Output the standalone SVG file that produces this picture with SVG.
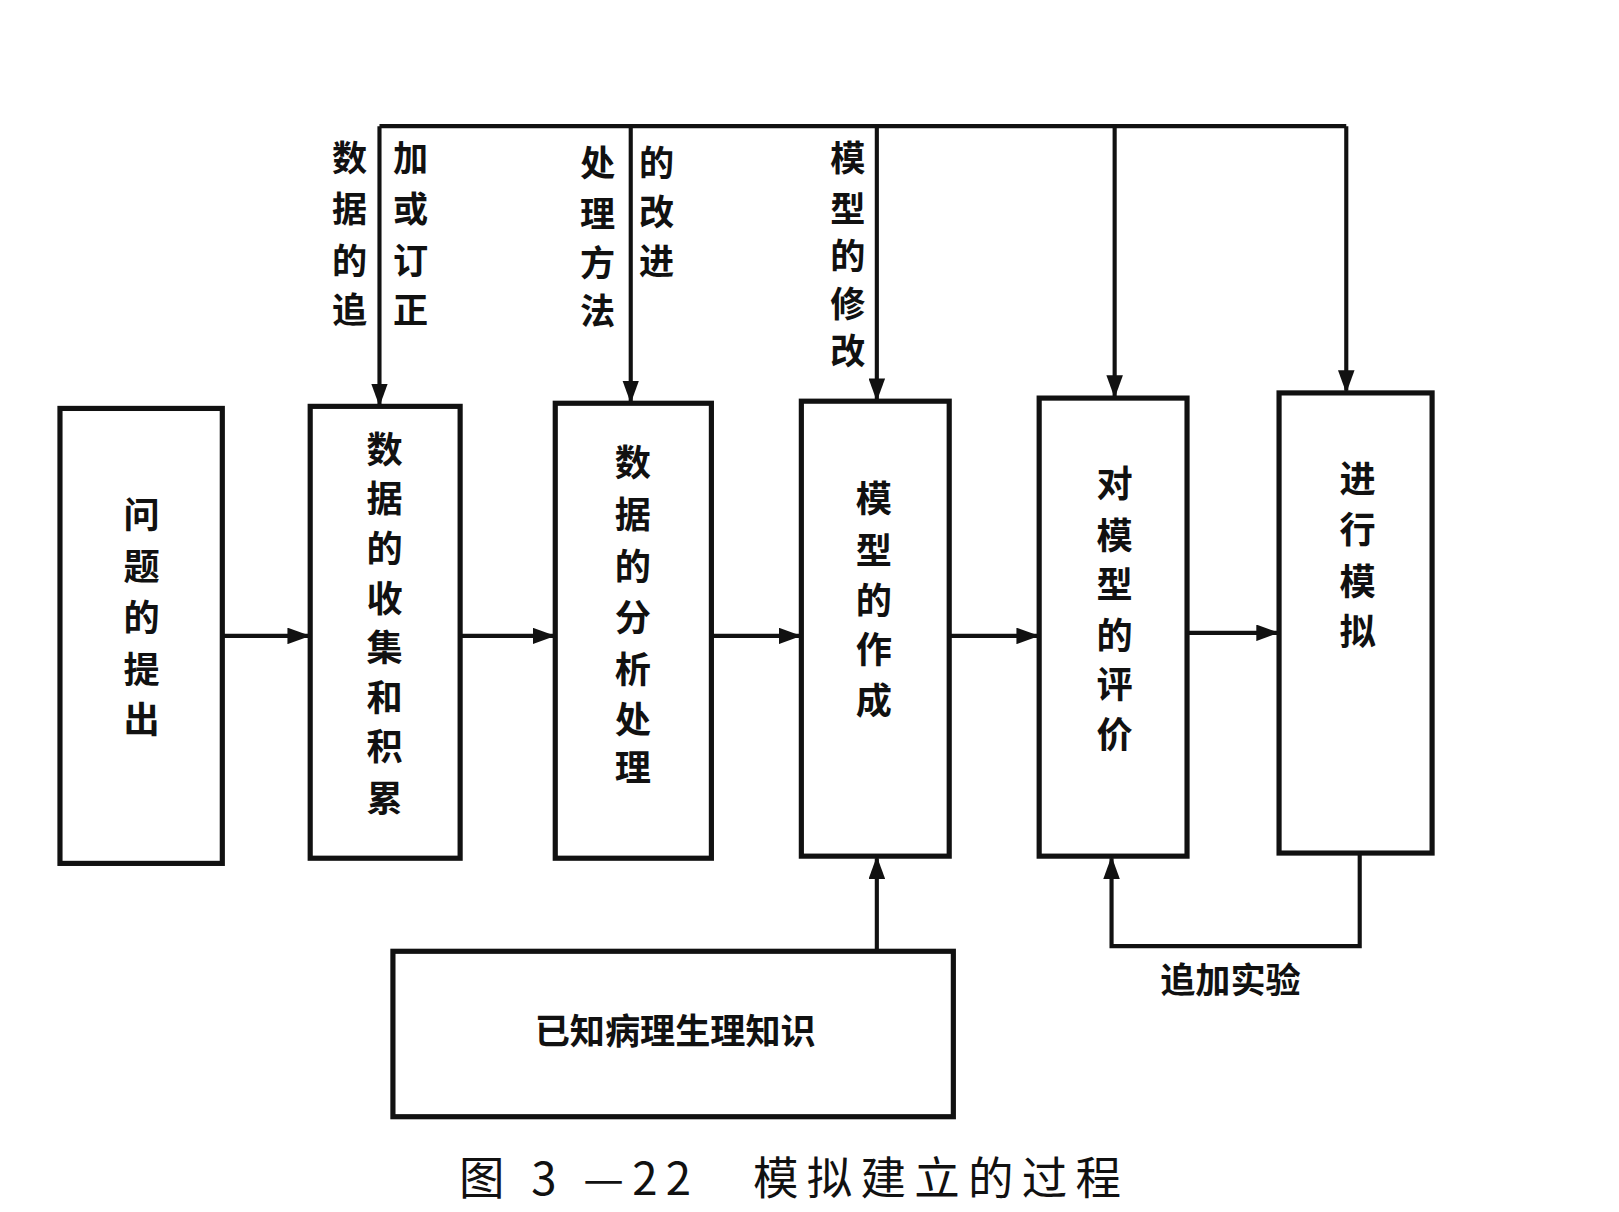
<svg xmlns="http://www.w3.org/2000/svg" width="1619" height="1212" viewBox="0 0 1619 1212">
<style>
.b{fill:none;stroke:#111;stroke-width:5}
.l{fill:none;stroke:#111;stroke-width:4}
text{font-family:"Noto Sans CJK SC","Liberation Sans",sans-serif;font-weight:bold;fill:#111;text-anchor:middle;dominant-baseline:central}
.t{font-size:35px}
.s{font-size:34px}
</style>
<defs>
<marker id="m" markerWidth="22" markerHeight="16" refX="20" refY="8" orient="auto" markerUnits="userSpaceOnUse"><path d="M0,0L22,8L0,16z" fill="#111"/></marker></defs>
<rect width="1619" height="1212" fill="#fff"/>
<g transform="scale(1.034)">
<g id="connectors" class="l">
<path d="M367,122H1302"/>
<path d="M367,122V391" marker-end="url(#m)"/>
<path d="M610,122V388" marker-end="url(#m)"/>
<path d="M848,122V386" marker-end="url(#m)"/>
<path d="M1078,122V383" marker-end="url(#m)"/>
<path d="M1302,122V378" marker-end="url(#m)"/>
<path d="M215,615H298" marker-end="url(#m)"/>
<path d="M445,615H535" marker-end="url(#m)"/>
<path d="M688,615H773" marker-end="url(#m)"/>
<path d="M918,615H1003" marker-end="url(#m)"/>
<path d="M1148,612H1235" marker-end="url(#m)"/>
<path d="M848,920V830" marker-end="url(#m)"/>
<path d="M1315,825V915H1075V830" marker-end="url(#m)"/>
</g>
<g id="edge-labels">
<text class="s" x="338" y="150">数</text><text class="s" x="338" y="200">据</text><text class="s" x="338" y="250">的</text><text class="s" x="338" y="297">追</text>
<text class="s" x="397" y="150">加</text><text class="s" x="397" y="200">或</text><text class="s" x="397" y="250">订</text><text class="s" x="397" y="297">正</text>
<text class="s" x="578" y="155">处</text><text class="s" x="578" y="205">理</text><text class="s" x="578" y="252">方</text><text class="s" x="578" y="298">法</text>
<text class="s" x="635" y="155">的</text><text class="s" x="635" y="203">改</text><text class="s" x="635" y="250">进</text>
<text class="s" x="820" y="150">模</text><text class="s" x="820" y="200">型</text><text class="s" x="820" y="245">的</text><text class="s" x="820" y="292">修</text><text class="s" x="820" y="337">改</text>
<text class="s" x="1190" y="945">追加实验</text>
</g>
<g id="n1"><rect class="b" x="58" y="395" width="157" height="440"/>
<text class="t" x="137" y="495">问</text><text class="t" x="137" y="545">题</text><text class="t" x="137" y="595">的</text><text class="t" x="137" y="645">提</text><text class="t" x="137" y="693">出</text></g>
<g id="n2"><rect class="b" x="300" y="393" width="145" height="437"/>
<text class="t" x="372" y="432">数</text><text class="t" x="372" y="480">据</text><text class="t" x="372" y="528">的</text><text class="t" x="372" y="576">收</text><text class="t" x="372" y="624">集</text><text class="t" x="372" y="672">和</text><text class="t" x="372" y="720">积</text><text class="t" x="372" y="770">累</text></g>
<g id="n3"><rect class="b" x="537" y="390" width="151" height="440"/>
<text class="t" x="612" y="445">数</text><text class="t" x="612" y="495">据</text><text class="t" x="612" y="545">的</text><text class="t" x="612" y="595">分</text><text class="t" x="612" y="645">析</text><text class="t" x="612" y="693">处</text><text class="t" x="612" y="740">理</text></g>
<g id="n4"><rect class="b" x="775" y="388" width="143" height="440"/>
<text class="t" x="845" y="480">模</text><text class="t" x="845" y="530">型</text><text class="t" x="845" y="578">的</text><text class="t" x="845" y="626">作</text><text class="t" x="845" y="675">成</text></g>
<g id="n5"><rect class="b" x="1005" y="385" width="143" height="443"/>
<text class="t" x="1078" y="465">对</text><text class="t" x="1078" y="515">模</text><text class="t" x="1078" y="563">型</text><text class="t" x="1078" y="612">的</text><text class="t" x="1078" y="660">评</text><text class="t" x="1078" y="708">价</text></g>
<g id="n6"><rect class="b" x="1237" y="380" width="148" height="445"/>
<text class="t" x="1313" y="460">进</text><text class="t" x="1313" y="510">行</text><text class="t" x="1313" y="560">模</text><text class="t" x="1313" y="608">拟</text></g>
<g id="n7"><rect class="b" x="380" y="920" width="542" height="160"/>
<text class="s" x="653" y="995">已知病理生理知识</text></g>
<text x="768" y="1136" style="font-size:44px;font-weight:normal;letter-spacing:8px">图 3 —22　模拟建立的过程</text>
</g>
</svg>
